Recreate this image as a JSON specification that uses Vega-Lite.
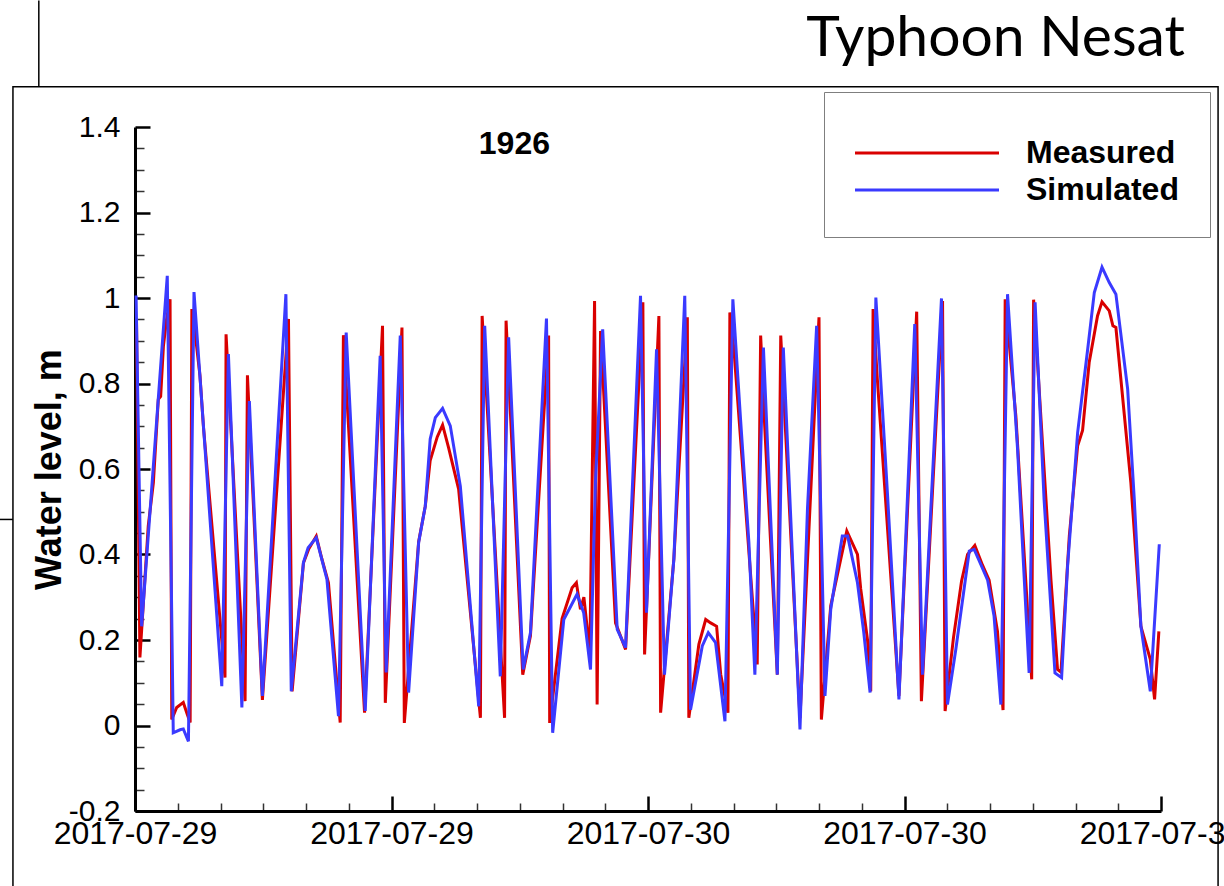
{
  "$schema": "https://vega.github.io/schema/vega-lite/v6.json",
  "autosize": {"type": "none"},
  "width": 1026,
  "height": 684,
  "padding": {"left": 135, "top": 127, "right": 63, "bottom": 75},
  "background": "white",
  "config": {"view": {"stroke": null}, "font": "Liberation Sans"},
  "title": {"text": "Typhoon Nesat", "anchor": "end", "frame": "group", "font": "Lato", "fontSize": 57, "fontWeight": "normal", "color": "black", "dx": 24, "dy": 72, "offset": 4},
  "resolve": {"axis": {"x": "independent", "y": "independent"}},
  "layer": [
    {
      "data": {"values": [{"part": "frame"}]},
      "mark": {"type": "rect", "fillOpacity": 0, "stroke": "black", "strokeWidth": 1.5},
      "encoding": {
        "x": {"datum": -5.71, "type": "quantitative", "scale": {"domain": [0, 48], "nice": false, "zero": false},
          "axis": {"orient": "bottom", "title": null, "grid": false, "domain": false, "labels": false,
            "values": [2,4,6,8,10,14,16,18,20,22,26,28,30,32,34,38,40,42,44,46],
            "tickSize": -8, "tickWidth": 1.5, "tickColor": "#333333"}},
        "x2": {"datum": 50.67},
        "y": {"datum": 1.494, "type": "quantitative", "scale": {"domain": [-0.2, 1.4], "nice": false, "zero": false},
          "axis": {"orient": "left", "title": null, "grid": false, "domain": false, "labels": false,
            "values": [-0.15,-0.1,-0.05,0.05,0.1,0.15,0.25,0.3,0.35,0.45,0.5,0.55,0.65,0.7,0.75,0.85,0.9,0.95,1.05,1.1,1.15,1.25,1.3,1.35],
            "tickSize": -9, "tickWidth": 1.5, "tickColor": "#333333"}},
        "y2": {"datum": -0.6}
      }
    },
    {
      "data": {"values": [{"part": "upper-left edge"}]},
      "mark": {"type": "rule", "stroke": "black", "strokeWidth": 1.5},
      "encoding": {
        "x": {"datum": -4.5, "type": "quantitative", "axis": null},
        "y": {"datum": 1.494, "type": "quantitative", "axis": null},
        "y2": {"datum": 1.696}
      }
    },
    {
      "data": {"values": [{"part": "left stub"}]},
      "mark": {"type": "rule", "stroke": "black", "strokeWidth": 1.5},
      "encoding": {
        "x": {"datum": -6.32, "type": "quantitative", "axis": null},
        "x2": {"datum": -5.71},
        "y": {"datum": 0.482, "type": "quantitative", "axis": null}
      }
    },
    {
      "data": {"values": [
        {"series":"Measured","t":0.07,"level":0.95},{"series":"Measured","t":0.23,"level":0.159},{"series":"Measured","t":0.62,"level":0.467},{"series":"Measured","t":0.86,"level":0.568},{"series":"Measured","t":1.09,"level":0.763},{"series":"Measured","t":1.2,"level":0.77},{"series":"Measured","t":1.33,"level":0.888},{"series":"Measured","t":1.48,"level":0.951},{"series":"Measured","t":1.64,"level":0.997},{"series":"Measured","t":1.72,"level":0.014},{"series":"Measured","t":1.95,"level":0.042},{"series":"Measured","t":2.26,"level":0.054},{"series":"Measured","t":2.42,"level":0.03},{"series":"Measured","t":2.58,"level":0.007},{"series":"Measured","t":2.66,"level":0.974},{"series":"Measured","t":2.81,"level":0.919},{"series":"Measured","t":3.04,"level":0.818},{"series":"Measured","t":3.2,"level":0.7},{"series":"Measured","t":4.21,"level":0.112},{"series":"Measured","t":4.26,"level":0.915},{"series":"Measured","t":5.15,"level":0.057},{"series":"Measured","t":5.26,"level":0.819},{"series":"Measured","t":5.96,"level":0.06},{"series":"Measured","t":7.18,"level":0.951},{"series":"Measured","t":7.35,"level":0.08},{"series":"Measured","t":7.88,"level":0.38},{"series":"Measured","t":8.12,"level":0.412},{"series":"Measured","t":8.48,"level":0.443},{"series":"Measured","t":8.74,"level":0.39},{"series":"Measured","t":9.05,"level":0.334},{"series":"Measured","t":9.6,"level":0.007},{"series":"Measured","t":9.75,"level":0.913},{"series":"Measured","t":10.74,"level":0.03},{"series":"Measured","t":11.58,"level":0.935},{"series":"Measured","t":11.71,"level":0.053},{"series":"Measured","t":12.49,"level":0.931},{"series":"Measured","t":12.6,"level":0.006},{"series":"Measured","t":13.27,"level":0.43},{"series":"Measured","t":13.58,"level":0.513},{"series":"Measured","t":13.81,"level":0.62},{"series":"Measured","t":14.14,"level":0.675},{"series":"Measured","t":14.39,"level":0.703},{"series":"Measured","t":14.67,"level":0.65},{"series":"Measured","t":15.14,"level":0.553},{"series":"Measured","t":16.16,"level":0.018},{"series":"Measured","t":16.24,"level":0.958},{"series":"Measured","t":17.29,"level":0.018},{"series":"Measured","t":17.36,"level":0.947},{"series":"Measured","t":18.14,"level":0.119},{"series":"Measured","t":18.5,"level":0.21},{"series":"Measured","t":19.35,"level":0.912},{"series":"Measured","t":19.4,"level":0.006},{"series":"Measured","t":19.98,"level":0.25},{"series":"Measured","t":20.45,"level":0.322},{"series":"Measured","t":20.65,"level":0.334},{"series":"Measured","t":20.84,"level":0.272},{"series":"Measured","t":21.0,"level":0.3},{"series":"Measured","t":21.28,"level":0.17},{"series":"Measured","t":21.5,"level":0.993},{"series":"Measured","t":21.62,"level":0.049},{"series":"Measured","t":21.78,"level":0.923},{"series":"Measured","t":22.48,"level":0.24},{"series":"Measured","t":22.95,"level":0.178},{"series":"Measured","t":23.76,"level":0.99},{"series":"Measured","t":23.84,"level":0.166},{"series":"Measured","t":24.51,"level":0.958},{"series":"Measured","t":24.59,"level":0.03},{"series":"Measured","t":25.21,"level":0.39},{"series":"Measured","t":25.84,"level":0.955},{"series":"Measured","t":25.91,"level":0.018},{"series":"Measured","t":26.38,"level":0.19},{"series":"Measured","t":26.7,"level":0.248},{"series":"Measured","t":26.93,"level":0.24},{"series":"Measured","t":27.21,"level":0.232},{"series":"Measured","t":27.4,"level":0.12},{"series":"Measured","t":27.74,"level":0.03},{"series":"Measured","t":27.83,"level":0.966},{"series":"Measured","t":28.02,"level":0.88},{"series":"Measured","t":29.11,"level":0.143},{"series":"Measured","t":29.27,"level":0.912},{"series":"Measured","t":29.46,"level":0.7},{"series":"Measured","t":30.05,"level":0.119},{"series":"Measured","t":30.21,"level":0.912},{"series":"Measured","t":31.11,"level":0.017},{"series":"Measured","t":32.0,"level":0.955},{"series":"Measured","t":32.11,"level":0.014},{"series":"Measured","t":32.55,"level":0.28},{"series":"Measured","t":33.3,"level":0.455},{"series":"Measured","t":33.8,"level":0.4},{"series":"Measured","t":33.95,"level":0.32},{"series":"Measured","t":34.27,"level":0.2},{"series":"Measured","t":34.42,"level":0.08},{"series":"Measured","t":34.53,"level":0.974},{"series":"Measured","t":34.73,"level":0.81},{"series":"Measured","t":35.74,"level":0.069},{"series":"Measured","t":36.57,"level":0.968},{"series":"Measured","t":36.79,"level":0.057},{"series":"Measured","t":37.78,"level":0.993},{"series":"Measured","t":37.9,"level":0.034},{"series":"Measured","t":38.29,"level":0.205},{"series":"Measured","t":38.67,"level":0.338},{"series":"Measured","t":38.95,"level":0.4},{"series":"Measured","t":39.29,"level":0.421},{"series":"Measured","t":39.65,"level":0.375},{"series":"Measured","t":39.96,"level":0.34},{"series":"Measured","t":40.35,"level":0.22},{"series":"Measured","t":40.61,"level":0.036},{"series":"Measured","t":40.71,"level":0.997},{"series":"Measured","t":41.21,"level":0.724},{"series":"Measured","t":41.95,"level":0.108},{"series":"Measured","t":42.04,"level":0.996},{"series":"Measured","t":42.85,"level":0.342},{"series":"Measured","t":43.16,"level":0.131},{"series":"Measured","t":43.32,"level":0.125},{"series":"Measured","t":43.71,"level":0.443},{"series":"Measured","t":44.1,"level":0.654},{"series":"Measured","t":44.33,"level":0.69},{"series":"Measured","t":44.64,"level":0.849},{"series":"Measured","t":45.03,"level":0.958},{"series":"Measured","t":45.24,"level":0.991},{"series":"Measured","t":45.58,"level":0.97},{"series":"Measured","t":45.75,"level":0.935},{"series":"Measured","t":45.89,"level":0.931},{"series":"Measured","t":46.59,"level":0.568},{"series":"Measured","t":47.06,"level":0.232},{"series":"Measured","t":47.5,"level":0.155},{"series":"Measured","t":47.7,"level":0.061},{"series":"Measured","t":47.9,"level":0.22},
        {"series":"Simulated","t":0.05,"level":1.006},{"series":"Simulated","t":0.31,"level":0.232},{"series":"Simulated","t":1.51,"level":1.052},{"series":"Simulated","t":1.79,"level":-0.017},{"series":"Simulated","t":2.11,"level":-0.01},{"series":"Simulated","t":2.26,"level":-0.008},{"series":"Simulated","t":2.5,"level":-0.037},{"series":"Simulated","t":2.76,"level":1.014},{"series":"Simulated","t":4.06,"level":0.092},{"series":"Simulated","t":4.37,"level":0.869},{"series":"Simulated","t":5.0,"level":0.042},{"series":"Simulated","t":5.35,"level":0.759},{"series":"Simulated","t":5.96,"level":0.069},{"series":"Simulated","t":7.06,"level":1.009},{"series":"Simulated","t":7.31,"level":0.08},{"series":"Simulated","t":7.88,"level":0.381},{"series":"Simulated","t":8.1,"level":0.416},{"series":"Simulated","t":8.48,"level":0.439},{"series":"Simulated","t":8.98,"level":0.342},{"series":"Simulated","t":9.52,"level":0.022},{"series":"Simulated","t":9.88,"level":0.919},{"series":"Simulated","t":10.77,"level":0.034},{"series":"Simulated","t":11.47,"level":0.865},{"series":"Simulated","t":11.75,"level":0.124},{"series":"Simulated","t":12.41,"level":0.912},{"series":"Simulated","t":12.8,"level":0.077},{"series":"Simulated","t":13.27,"level":0.428},{"series":"Simulated","t":13.58,"level":0.513},{"series":"Simulated","t":13.81,"level":0.67},{"series":"Simulated","t":14.05,"level":0.72},{"series":"Simulated","t":14.39,"level":0.742},{"series":"Simulated","t":14.75,"level":0.701},{"series":"Simulated","t":15.22,"level":0.56},{"series":"Simulated","t":16.08,"level":0.045},{"series":"Simulated","t":16.36,"level":0.935},{"series":"Simulated","t":17.09,"level":0.115},{"series":"Simulated","t":17.48,"level":0.908},{"series":"Simulated","t":18.16,"level":0.131},{"series":"Simulated","t":18.5,"level":0.217},{"series":"Simulated","t":19.25,"level":0.952},{"series":"Simulated","t":19.54,"level":-0.017},{"series":"Simulated","t":20.06,"level":0.248},{"series":"Simulated","t":20.68,"level":0.307},{"series":"Simulated","t":20.99,"level":0.264},{"series":"Simulated","t":21.31,"level":0.131},{"series":"Simulated","t":21.54,"level":0.568},{"series":"Simulated","t":21.88,"level":0.927},{"series":"Simulated","t":22.56,"level":0.225},{"series":"Simulated","t":22.95,"level":0.182},{"series":"Simulated","t":23.65,"level":1.005},{"series":"Simulated","t":23.93,"level":0.264},{"series":"Simulated","t":24.4,"level":0.88},{"series":"Simulated","t":24.77,"level":0.119},{"series":"Simulated","t":25.21,"level":0.389},{"series":"Simulated","t":25.72,"level":1.005},{"series":"Simulated","t":25.99,"level":0.037},{"series":"Simulated","t":26.54,"level":0.186},{"series":"Simulated","t":26.82,"level":0.217},{"series":"Simulated","t":27.16,"level":0.194},{"series":"Simulated","t":27.6,"level":0.01},{"series":"Simulated","t":27.97,"level":0.997},{"series":"Simulated","t":28.33,"level":0.716},{"series":"Simulated","t":28.72,"level":0.428},{"series":"Simulated","t":29.0,"level":0.119},{"series":"Simulated","t":29.4,"level":0.884},{"series":"Simulated","t":30.05,"level":0.119},{"series":"Simulated","t":30.33,"level":0.884},{"series":"Simulated","t":31.11,"level":-0.009},{"series":"Simulated","t":31.46,"level":0.506},{"series":"Simulated","t":31.89,"level":0.935},{"series":"Simulated","t":32.28,"level":0.069},{"series":"Simulated","t":32.55,"level":0.272},{"series":"Simulated","t":33.09,"level":0.443},{"series":"Simulated","t":33.34,"level":0.443},{"series":"Simulated","t":33.8,"level":0.334},{"series":"Simulated","t":34.09,"level":0.22},{"series":"Simulated","t":34.39,"level":0.077},{"series":"Simulated","t":34.66,"level":1.001},{"series":"Simulated","t":35.2,"level":0.545},{"series":"Simulated","t":35.74,"level":0.061},{"series":"Simulated","t":36.48,"level":0.939},{"series":"Simulated","t":36.84,"level":0.119},{"series":"Simulated","t":37.73,"level":0.999},{"series":"Simulated","t":38.01,"level":0.049},{"series":"Simulated","t":38.4,"level":0.178},{"series":"Simulated","t":39.03,"level":0.408},{"series":"Simulated","t":39.26,"level":0.412},{"series":"Simulated","t":39.57,"level":0.377},{"series":"Simulated","t":39.89,"level":0.34},{"series":"Simulated","t":40.19,"level":0.256},{"series":"Simulated","t":40.51,"level":0.049},{"series":"Simulated","t":40.82,"level":1.009},{"series":"Simulated","t":41.29,"level":0.646},{"series":"Simulated","t":41.83,"level":0.123},{"series":"Simulated","t":42.11,"level":0.99},{"series":"Simulated","t":42.53,"level":0.529},{"series":"Simulated","t":43.04,"level":0.123},{"series":"Simulated","t":43.35,"level":0.112},{"series":"Simulated","t":43.63,"level":0.373},{"series":"Simulated","t":44.1,"level":0.685},{"series":"Simulated","t":44.57,"level":0.88},{"series":"Simulated","t":44.88,"level":1.013},{"series":"Simulated","t":45.24,"level":1.072},{"series":"Simulated","t":45.58,"level":1.036},{"series":"Simulated","t":45.89,"level":1.009},{"series":"Simulated","t":46.44,"level":0.787},{"series":"Simulated","t":46.75,"level":0.529},{"series":"Simulated","t":47.06,"level":0.232},{"series":"Simulated","t":47.5,"level":0.08},{"series":"Simulated","t":47.92,"level":0.424}
      ]},
      "mark": {"type": "line", "strokeWidth": 3},
      "encoding": {
        "x": {
          "field": "t", "type": "quantitative",
          "scale": {"domain": [0, 48], "nice": false, "zero": false},
          "axis": {
            "orient": "bottom", "title": null, "grid": false,
            "values": [0, 12, 24, 36, 48],
            "labelExpr": "datum.value < 24 ? '2017-07-29' : (datum.value < 48 ? '2017-07-30' : '2017-07-31')",
            "tickSize": -15, "tickWidth": 2.5, "tickColor": "black",
            "domainColor": "black", "domainWidth": 3,
            "labelFont": "Liberation Sans", "labelFontSize": 32, "labelColor": "black",
            "labelPadding": 22, "labelOverlap": false, "labelFlush": false, "labelBound": false
          }
        },
        "y": {
          "field": "level", "type": "quantitative",
          "scale": {"domain": [-0.2, 1.4], "nice": false, "zero": false},
          "axis": {
            "orient": "left", "title": "Water level, m", "grid": false,
            "values": [-0.2, 0, 0.2, 0.4, 0.6, 0.8, 1, 1.2, 1.4],
            "labelExpr": "'' + round(datum.value * 10) / 10",
            "tickSize": -15, "tickWidth": 2.5, "tickColor": "black",
            "domainColor": "black", "domainWidth": 3,
            "labelFont": "Liberation Sans", "labelFontSize": 30, "labelColor": "black",
            "labelPadding": 30, "labelOverlap": false, "labelFlush": false, "labelBound": false,
            "titleFont": "Liberation Sans", "titleFontSize": 36, "titleFontWeight": "bold", "titleColor": "black",
            "titlePadding": 0
          }
        },
        "color": {
          "field": "series", "type": "nominal",
          "scale": {"domain": ["Measured", "Simulated"], "range": ["#d90000", "#3a3aff"]},
          "legend": {
            "orient": "none", "legendX": 689, "legendY": -35,
            "title": " ", "titleFontSize": 8, "titlePadding": 6,
            "symbolType": "M-3.2,0H25.6", "symbolSize": 100, "symbolStrokeWidth": 3, "symbolFillColor": "transparent",
            "labelFont": "Liberation Sans", "labelFontSize": 32, "labelFontWeight": "bold", "labelColor": "black",
            "labelOffset": 139, "rowPadding": 5, "padding": 31,
            "strokeColor": "#7f7f7f", "fillColor": "white"
          }
        }
      }
    },
    {
      "data": {"values": [{"label": "1926"}]},
      "mark": {"type": "text", "font": "Liberation Sans", "fontSize": 32, "fontWeight": "bold", "color": "black", "align": "center", "baseline": "middle"},
      "encoding": {
        "x": {"datum": 17.75, "type": "quantitative", "axis": null},
        "y": {"datum": 1.361, "type": "quantitative", "axis": null},
        "text": {"field": "label", "type": "nominal"}
      }
    }
  ]
}
